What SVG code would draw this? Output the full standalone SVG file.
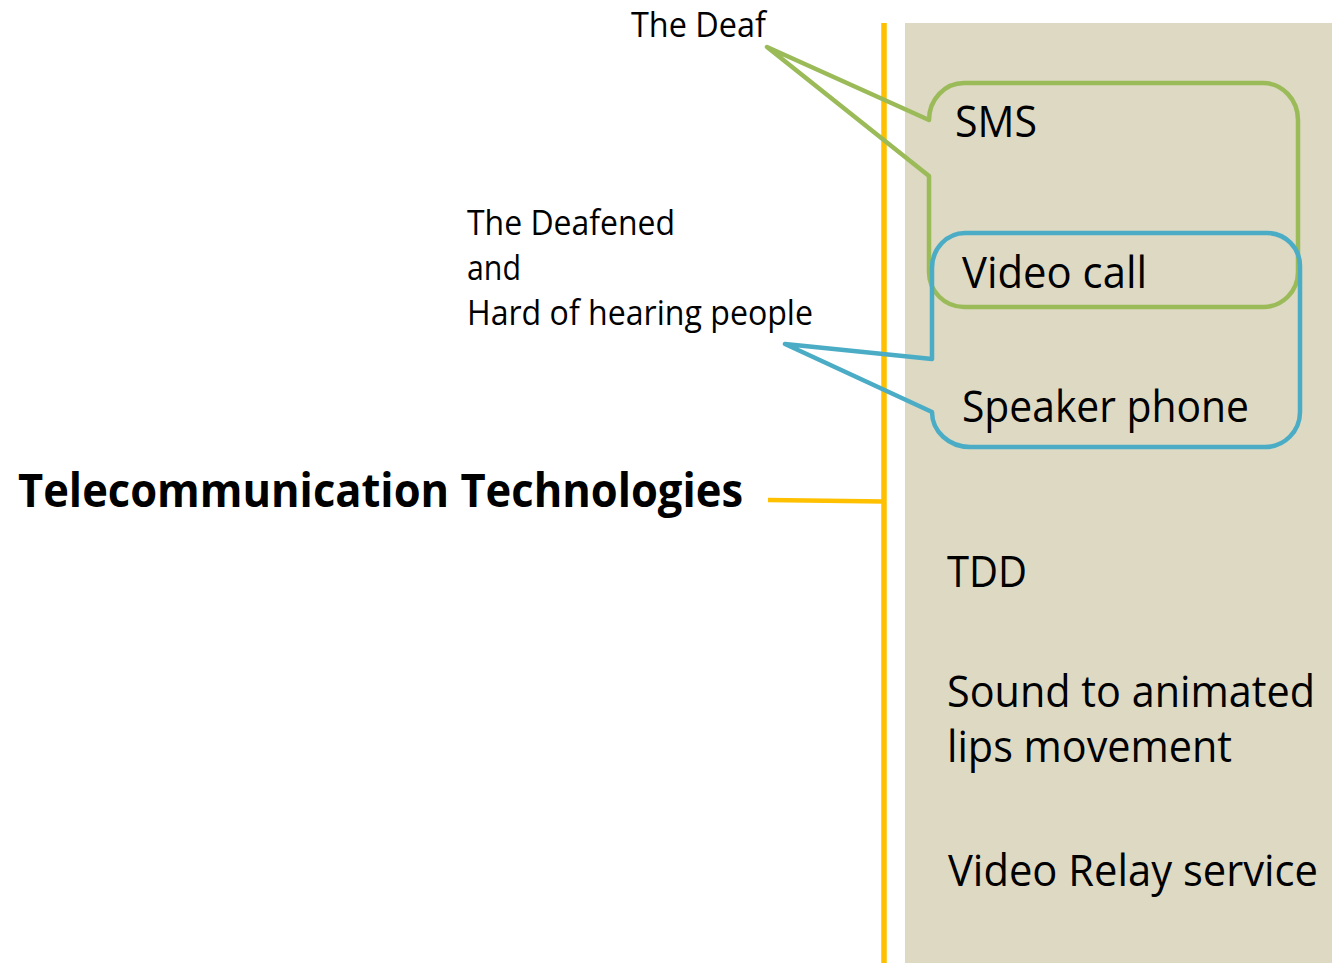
<svg xmlns="http://www.w3.org/2000/svg" width="1332" height="963" viewBox="0 0 1332 963">
<style>
.t{font-family:"Open Sans","Noto Sans","Liberation Sans",sans-serif;fill:#000}
.s{font-size:34px}
.m{font-size:43px}
.b{font-size:46px;font-weight:bold}
.green{fill:none;stroke:#9BBB59;stroke-width:4.5;stroke-linejoin:round}
.blue{fill:none;stroke:#4BACC6;stroke-width:4.5;stroke-linejoin:round}
.yl{stroke:#FFC000;fill:none}
</style>
<rect width="1332" height="963" fill="#FFFFFF"/>
<g id="panel">
<rect x="905" y="23" width="427" height="940" fill="#DDD9C3"/>
</g>
<g id="connectors">
<line class="yl" x1="884" y1="23" x2="884" y2="963" stroke-width="5.5"/>
<line class="yl" x1="768" y1="500" x2="884" y2="501.5" stroke-width="4.5"/>
</g>
<g id="title">
<text class="t b" x="18" y="507" textLength="725" lengthAdjust="spacingAndGlyphs">Telecommunication Technologies</text>
</g>
<g id="deaf-callout">
<path class="green" d="M 929,120 A 35 37 0 0 1 964,83 H 1263 A 35 37 0 0 1 1298,120 V 272 A 35 35 0 0 1 1263,307 H 964 A 35 35 0 0 1 929,272 V 176 L 767,47 Z"/>
<text class="t s" x="631" y="37" textLength="135" lengthAdjust="spacingAndGlyphs">The Deaf</text>
</g>
<g id="hoh-callout">
<path class="blue" d="M 932,359 V 268 A 33 35 0 0 1 965,233 H 1267 A 33 33 0 0 1 1300,266 V 412 A 35 35 0 0 1 1265,447 H 970 A 38 35 0 0 1 932,412 L 785,344 Z"/>
<text class="t s" x="467" y="235" textLength="208" lengthAdjust="spacingAndGlyphs">The Deafened</text>
<text class="t s" x="467" y="280" textLength="54" lengthAdjust="spacingAndGlyphs">and</text>
<text class="t s" x="467" y="325" textLength="346" lengthAdjust="spacingAndGlyphs">Hard of hearing people</text>
</g>
<g id="sms"><text class="t m" x="955" y="137" textLength="82" lengthAdjust="spacingAndGlyphs">SMS</text></g>
<g id="video-call"><text class="t m" x="962" y="288" textLength="185" lengthAdjust="spacingAndGlyphs">Video call</text></g>
<g id="speaker-phone"><text class="t m" x="962" y="422" textLength="287" lengthAdjust="spacingAndGlyphs">Speaker phone</text></g>
<g id="tdd"><text class="t m" x="947" y="587" textLength="80" lengthAdjust="spacingAndGlyphs">TDD</text></g>
<g id="sound-lips">
<text class="t m" x="947" y="707" textLength="368" lengthAdjust="spacingAndGlyphs">Sound to animated</text>
<text class="t m" x="947" y="762" textLength="285" lengthAdjust="spacingAndGlyphs">lips movement</text>
</g>
<g id="video-relay"><text class="t m" x="948" y="886" textLength="370" lengthAdjust="spacingAndGlyphs">Video Relay service</text></g>
</svg>
